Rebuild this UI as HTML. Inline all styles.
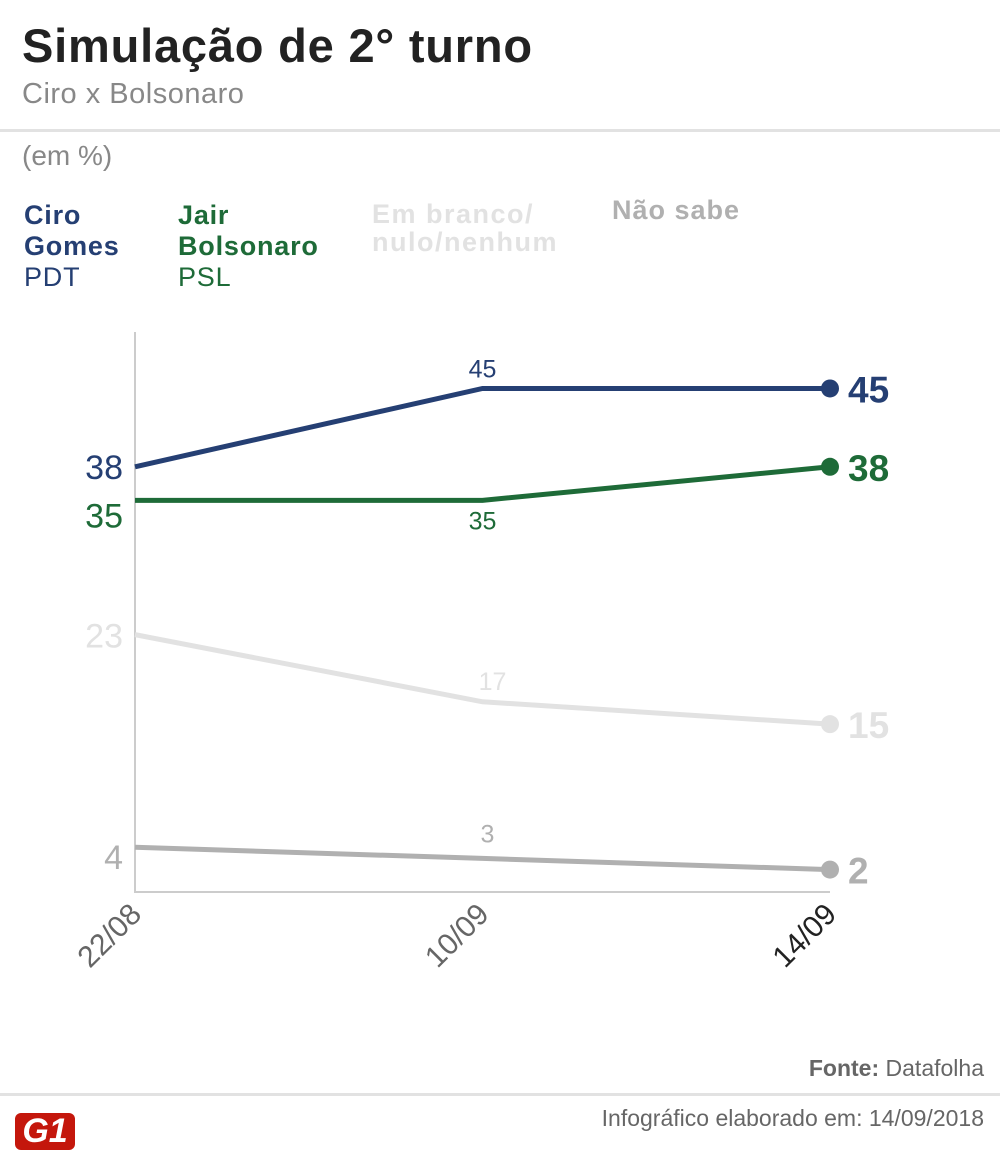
<!DOCTYPE html>
<html><head><meta charset="utf-8"><style>
body{margin:0;width:1000px;height:1174px;background:#fff;font-family:"Liberation Sans",sans-serif;overflow:hidden;position:relative}
.a{position:absolute;white-space:nowrap}
</style></head><body>
<div class="a" style="left:22px;top:18px;font-size:47px;font-weight:bold;color:#222;letter-spacing:0.8px">Simulação de 2° turno</div>
<div class="a" style="left:22px;top:78px;font-size:29px;color:#888;letter-spacing:0.5px">Ciro x Bolsonaro</div>
<div class="a" style="left:0;top:129px;width:1000px;height:3px;background:#e2e2e2"></div>
<div class="a" style="left:22px;top:140px;font-size:28px;color:#888">(em %)</div>
<div class="a" style="left:24px;top:200px;font-size:27px;line-height:31px;color:#253f73;letter-spacing:0.8px"><b>Ciro<br>Gomes</b><br>PDT</div>
<div class="a" style="left:178px;top:200px;font-size:27px;line-height:31px;color:#1e6b38;letter-spacing:0.8px"><b>Jair<br>Bolsonaro</b><br>PSL</div>
<div class="a" style="left:372px;top:200px;font-size:27px;line-height:28px;color:#e2e2e2;letter-spacing:1.5px"><b>Em branco/<br>nulo/nenhum</b></div>
<div class="a" style="left:612px;top:195px;font-size:27px;color:#b0b0b0;letter-spacing:1px"><b>Não sabe</b></div>
<svg class="a" style="left:0;top:0" width="1000" height="1174" id="chart"></svg>
<div class="a" style="right:16px;top:1055px;font-size:23px;color:#666"><b>Fonte:</b> Datafolha</div>
<div class="a" style="left:0;top:1093px;width:1000px;height:3px;background:#e2e2e2"></div>
<div class="a" style="left:15px;top:1113px;width:60px;height:37px;background:#c4170c;border-radius:6px;color:#fff;font-weight:bold;font-size:34px;line-height:37px;text-align:center;font-style:italic">G1</div>
<div class="a" style="right:16px;top:1105px;font-size:23px;color:#666">Infográfico elaborado em: 14/09/2018</div>
<script>
const dates=["22/08","10/09","14/09"];
const ciro=[38,45,45];
const bolsonaro=[35,35,38];
const branco=[23,17,15];
const naoSabe=[4,3,2];
const svg=document.getElementById('chart');
const NS='http://www.w3.org/2000/svg';
const x=i=>135+i*347.5;
const y=v=>892-v*11.19;
function mk(t,a){const e=document.createElementNS(NS,t);for(const k in a)e.setAttribute(k,a[k]);svg.appendChild(e);return e;}
let ax=mk('path',{d:'M135 332 V892 H830',stroke:'#ccc','stroke-width':2,fill:'none'});


dates.forEach((d,i)=>{const t=mk('text',{x:x(i)+8,y:916,'font-size':30,fill:i==2?'#222':'#666','text-anchor':'end',transform:`rotate(-45 ${x(i)+8} 916)`});t.textContent=d;

});
const series=[[ciro,'#253f73',[-12,12],[0,-11],'ciro'],[bolsonaro,'#1e6b38',[-12,27],[0,29],'bolsonaro'],[branco,'#e2e2e2',[-12,13],[10,-12],'branco'],[naoSabe,'#b0b0b0',[-12,22],[5,-16],'nao-sabe']];
series.forEach(([vals,c,o0,o1,n])=>{
 const p=mk('polyline',{points:vals.map((v,i)=>x(i)+','+y(v)).join(' '),fill:'none',stroke:c,'stroke-width':5});
 
 
 const dot=mk('circle',{cx:x(2),cy:y(vals[2]),r:9,fill:c});
 
 
 const l0=mk('text',{x:x(0)+o0[0],y:y(vals[0])+o0[1],'font-size':34,fill:c,'text-anchor':'end'});l0.textContent=vals[0];
 
 
 const l1=mk('text',{x:x(1)+o1[0],y:y(vals[1])+o1[1],'font-size':25,fill:c,'text-anchor':'middle'});l1.textContent=vals[1];
 
 
 const l2=mk('text',{x:x(2)+18,y:y(vals[2])+14,'font-size':37,'font-weight':'bold',fill:c});l2.textContent=vals[2];
 
 
});
</script>
</body></html>
